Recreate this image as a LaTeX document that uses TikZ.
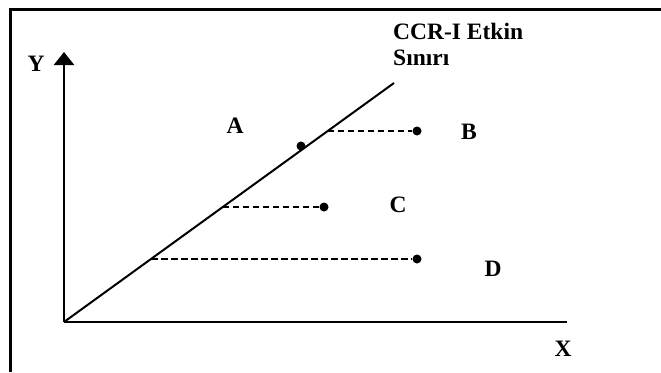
\documentclass[tikz,border=0pt]{standalone}
\usepackage{fontspec}
\setmainfont{Liberation Serif}
\usetikzlibrary{arrows.meta}
\begin{document}
\begin{tikzpicture}[x=1pt,y=-1pt,
  lbl/.style={font=\fontsize{23.5}{28}\selectfont\bfseries, inner sep=0pt},
  dotnode/.style={circle, fill=black, inner sep=0pt, minimum size=9pt},
  axisline/.style={line width=2.4pt},
  dashline/.style={line width=1.8pt, dash pattern=on 6.5pt off 3.5pt},
  frameline/.style={line width=3pt}]
\useasboundingbox (0,0) rectangle (661,372);
% frame (top and left only)
\coordinate (fTL) at (10,9);
\coordinate (fTR) at (661,9);
\coordinate (fBL) at (10,372);
\draw[frameline] (fBL) -- (fTL) -- (fTR);
% axes
\coordinate (O) at (64,322);
\coordinate (Ytop) at (64,52);
\coordinate (Xend) at (567,322);
\draw[axisline, -{Triangle[width=20pt,length=13pt]}] (O) -- (Ytop);
\draw[axisline] (O) -- (Xend);
\node[lbl] (Ylab) at (36,64) {Y};
\node[lbl] (Xlab) at (563,349) {X};
% frontier
\coordinate (F) at (394,83);
\draw[line width=2pt] (O) -- (F);
\node[lbl, anchor=base west, align=left] (front) at (393,39) {CCR-I Etkin};
\node[lbl, anchor=base west] (front2) at (393,65) {Sınırı};
% points
\coordinate (pB) at (327.7,131);
\coordinate (pC) at (222.8,207);
\coordinate (pD) at (151,259);
\node[dotnode] (dA) at (301,146) {};
\node[dotnode] (dB) at (417,131) {};
\node[dotnode] (dC) at (324,207) {};
\node[dotnode] (dD) at (417,259) {};
\draw[dashline] (pB) -- (dB);
\draw[dashline] (pC) -- (dC);
\draw[dashline] (pD) -- (dD);
\node[lbl] (A) at (235,126) {A};
\node[lbl] (B) at (469,132) {B};
\node[lbl] (C) at (398,205) {C};
\node[lbl] (D) at (493,269) {D};
\end{tikzpicture}
\end{document}
